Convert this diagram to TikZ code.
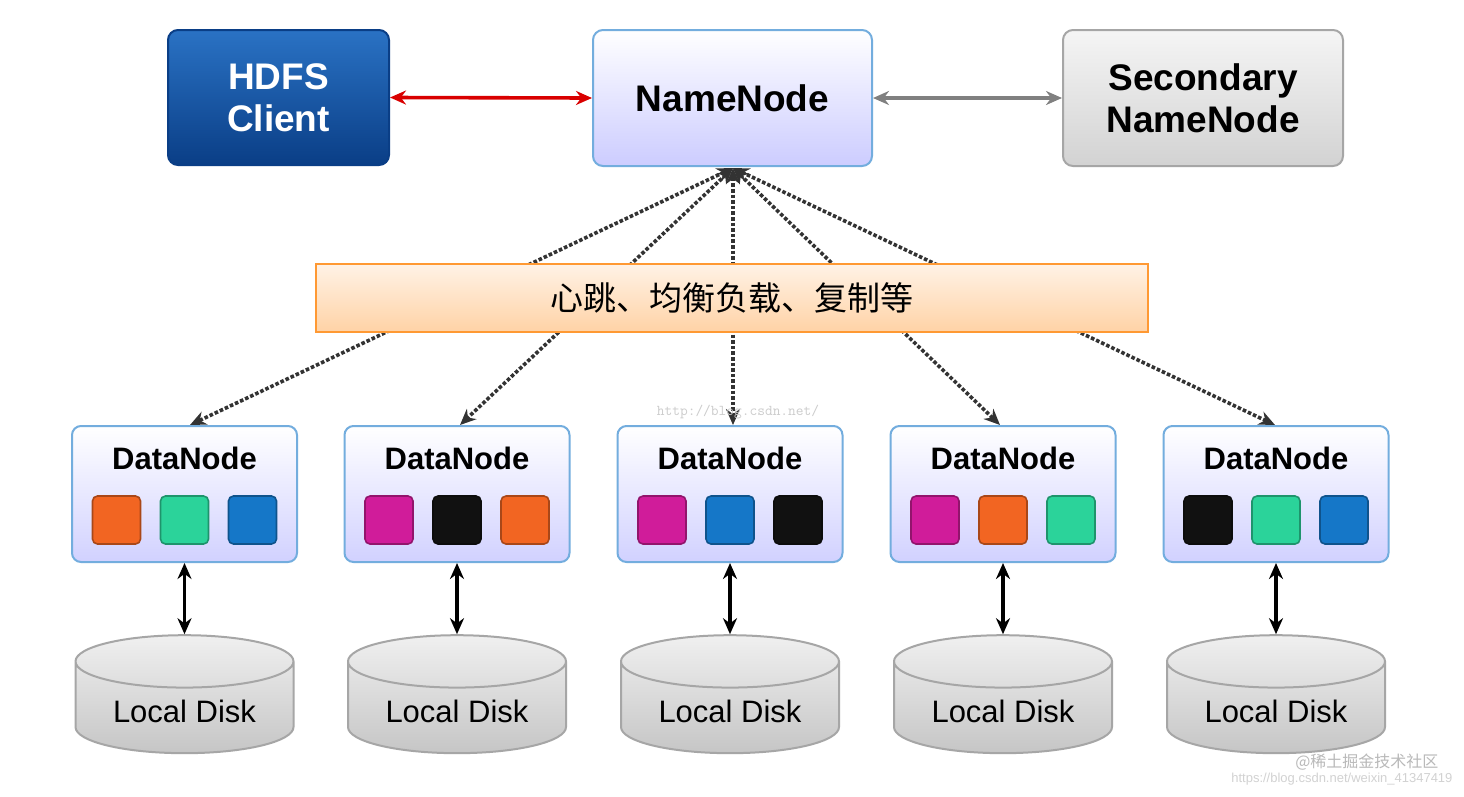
\documentclass[tikz,border=0pt]{standalone}
\usepackage{fontspec}
\setmainfont{Liberation Sans}
\newfontfamily\cjk{Noto Sans CJK SC}
\usetikzlibrary{shapes.geometric,arrows.meta}
\definecolor{cOr}{HTML}{F26522}
\definecolor{cTe}{HTML}{2BD39A}
\definecolor{cBl}{HTML}{1577C8}
\definecolor{cMa}{HTML}{D01C9A}
\definecolor{cBk}{HTML}{111111}
\definecolor{clT}{HTML}{2A72C4}
\definecolor{clB}{HTML}{0A3E86}
\tikzset{
 box/.style={rounded corners=10pt,line width=2pt,minimum width=#1,align=center,font=\fontsize{37}{42}\selectfont\bfseries},
 dn/.style={draw=cBl!60,line width=2pt,rounded corners=9pt,minimum width=225pt,minimum height=136pt,top color=white,bottom color=blue!18},
 sq/.style={draw=#1!70!black,line width=1.6pt,fill=#1,rounded corners=5pt,minimum size=48pt,inner sep=0pt},
 disk/.style={cylinder,shape border rotate=90,draw=gray!70,line width=2pt,minimum width=218pt,minimum height=118pt,aspect=0.35,top color=gray!12,bottom color=gray!45,font=\fontsize{31}{34}\selectfont},
 dot/.style={dotted,line width=3.6pt,draw=black!80,{Stealth[length=16pt,width=14pt]}-{Stealth[length=16pt,width=14pt]}},
 vl/.style={line width=3.6pt,{Stealth[length=16pt,width=14pt]}-{Stealth[length=16pt,width=14pt]}}
}
\begin{document}
\begin{tikzpicture}[x=1pt,y=-1pt]
\useasboundingbox (0,0) rectangle (1464,796);
\fill[white] (0,0) rectangle (1464,796);
\node[box=221pt,minimum height=135pt,draw=clB,top color=clT,bottom color=clB,text=white] (cl) at (278.5,97.5) {HDFS\\Client};
\node[box=279pt,minimum height=136pt,draw=cBl!60,top color=white,bottom color=blue!20] (nn) at (732.5,98) {NameNode};
\node[box=280pt,minimum height=136pt,draw=gray!70,top color=gray!8,bottom color=gray!35] (sn) at (1203,98) {Secondary\\NameNode};
\draw[red!85!black,line width=3.6pt,{Stealth[length=16pt,width=14pt]}-{Stealth[length=16pt,width=14pt]}] (cl.east) -- (nn.west);
\draw[gray,line width=3.6pt,{Stealth[length=16pt,width=14pt]}-{Stealth[length=16pt,width=14pt]}] (nn.east) -- (sn.west);
\foreach \i/\x/\a/\b/\c in {1/184.5/cOr/cTe/cBl,2/457/cMa/cBk/cOr,3/730/cMa/cBl/cBk,4/1003/cMa/cOr/cTe,5/1276/cBk/cTe/cBl}{
 \node[dn] (d\i) at (\x,494) {};
 \node[font=\fontsize{31}{34}\selectfont\bfseries] (l\i) at (\x,458) {DataNode};
 \node[sq=\a] (s\i a) at (\x-68,520) {};
 \node[sq=\b] (s\i b) at (\x,520) {};
 \node[sq=\c] (s\i c) at (\x+68,520) {};
 \node[disk] (k\i) at (\x,711) {Local Disk};
 \draw[vl] (d\i.south) -- (k\i.north);
}
\coordinate (t) at (733,168);
\draw[dot] (t) -- (190,425);
\draw[dot] (t) -- (460,425);
\draw[dot] (t) -- (733,425);
\draw[dot] (t) -- (1000,425);
\draw[dot] (t) -- (1275,425);
\node[draw=orange!80,line width=2pt,minimum width=832pt,minimum height=68pt,top color=orange!10,bottom color=orange!35,font=\cjk\fontsize{33}{36}\selectfont] (bn) at (732,298) {心跳、均衡负载、复制等};
\node[font=\ttfamily\fontsize{15}{18}\selectfont,text=gray!40] (w1) at (738,412) {http://blog.csdn.net/};
\node[font=\cjk\fontsize{16}{18}\selectfont,text=gray!55,anchor=east] (w2) at (1442,762) {@稀土掘金技术社区};
\node[font=\fontsize{13}{15}\selectfont,text=gray!35,anchor=east] (w3) at (1456,779) {https://blog.csdn.net/weixin\_41347419};
\end{tikzpicture}
\end{document}
